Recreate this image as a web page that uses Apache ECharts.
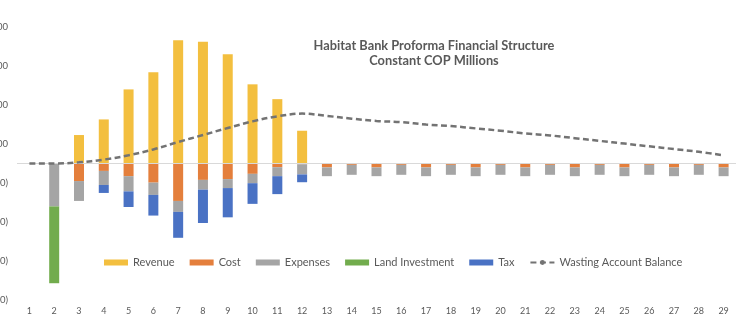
<!DOCTYPE html>
<html>
<head>
<meta charset="utf-8">
<script src="https://cdn.jsdelivr.net/npm/echarts@6/dist/echarts.min.js"></script>
<style>html,body{margin:0;padding:0;background:#fff}#c{width:738px;height:333px}</style>
</head>
<body>
<div id="c"></div>
<script>
const categories = ['1','2','3','4','5','6','7','8','9','10','11','12','13','14','15','16','17','18','19','20','21','22','23','24','25','26','27','28','29'];
const revenue  = [0, 0, 730, 1130, 1900, 2340, 3160, 3120, 2800, 2030, 1650, 840, 0, 0, 0, 0, 0, 0, 0, 0, 0, 0, 0, 0, 0, 0, 0, 0, 0];
const cost     = [0, 0, -450, -190, -325, -490, -960, -420, -400, -265, -95, -20, -100, -35, -100, -35, -100, -35, -100, -35, -100, -35, -100, -35, -100, -35, -100, -35, -100];
const expenses = [0, -1100, -510, -360, -390, -315, -280, -250, -230, -240, -230, -260, -225, -255, -225, -255, -225, -255, -225, -255, -225, -255, -225, -255, -225, -255, -225, -255, -225];
const landInvestment = [0, -1970, 0, 0, 0, 0, 0, 0, 0, 0, 0, 0, 0, 0, 0, 0, 0, 0, 0, 0, 0, 0, 0, 0, 0, 0, 0, 0, 0];
const tax      = [0, 0, 0, -205, -400, -530, -665, -855, -750, -530, -460, -200, 0, 0, 0, 0, 0, 0, 0, 0, 0, 0, 0, 0, 0, 0, 0, 0, 0];
const wastingBalance = [0, 0, 30, 100, 210, 360, 550, 730, 910, 1080, 1210, 1280, 1220, 1150, 1090, 1060, 1000, 960, 900, 840, 770, 720, 650, 580, 510, 440, 370, 300, 210];
const titleLines = ['Habitat Bank Proforma Financial Structure', 'Constant COP Millions'];

const FONT = 'Lato';
const chart = echarts.init(document.getElementById('c'), null, {renderer: 'canvas'});
const barCommon = {type: 'bar', stack: 'total', barWidth: 10};
chart.setOption({
  animation: false,
  backgroundColor: '#ffffff',
  textStyle: {fontFamily: FONT},
  title: {
    text: titleLines.join('\n'),
    left: 429, top: 33, textAlign: 'center',
    textStyle: {fontFamily: FONT, fontSize: 12.8, fontWeight: 'bold', color: '#595959', lineHeight: 15}
  },
  legend: {
    left: 99, top: 252,
    itemWidth: 24, itemHeight: 6, itemGap: 15,
    textStyle: {fontFamily: FONT, fontSize: 11, color: '#595959'},
    data: [
      {name: 'Revenue', icon: 'rect'},
      {name: 'Cost', icon: 'rect'},
      {name: 'Expenses', icon: 'rect'},
      {name: 'Land Investment', icon: 'rect'},
      {name: 'Tax', icon: 'rect'},
      {name: 'Wasting Account Balance'}
    ]
  },
  grid: {left: 17, right: 2, top: 27, bottom: 33, containLabel: false, outerBoundsMode: 'none'},
  xAxis: {
    type: 'category', data: categories,
    axisLine: {show: false}, axisTick: {show: false},
    axisLabel: {color: '#595959', fontSize: 9, margin: 7, fontFamily: FONT}
  },
  yAxis: {
    type: 'value', min: -3500, max: 3500, interval: 500,
    splitLine: {show: false}, axisLine: {show: false}, axisTick: {show: false},
    axisLabel: {
      color: '#595959', fontSize: 9.5, margin: 9, fontFamily: FONT,
      formatter: function (v) {
        const k = Math.round(v / 500);
        if (k % 2 === 0) return '';
        return v > 0 ? '00' : '00)';
      }
    }
  },
  series: [
    Object.assign({}, barCommon, {
      name: 'Revenue', data: revenue, itemStyle: {color: '#F3BF3F'},
      markLine: {
        silent: true, symbol: 'none', label: {show: false},
        lineStyle: {color: '#D9D9D9', width: 1, type: 'solid'},
        data: [{yAxis: 0}]
      }
    }),
    Object.assign({}, barCommon, {name: 'Cost', data: cost, itemStyle: {color: '#E47F3C'}}),
    Object.assign({}, barCommon, {name: 'Expenses', data: expenses, itemStyle: {color: '#A5A5A5'}}),
    Object.assign({}, barCommon, {name: 'Land Investment', data: landInvestment, itemStyle: {color: '#72AC4D'}}),
    Object.assign({}, barCommon, {name: 'Tax', data: tax, itemStyle: {color: '#4A72C4'}}),
    {
      name: 'Wasting Account Balance', type: 'line', data: wastingBalance,
      smooth: 0.35, showSymbol: false, symbol: 'circle', symbolSize: 6, z: 5,
      itemStyle: {color: '#737373'},
      lineStyle: {color: '#737373', width: 2.5, type: [6, 3.5]}
    }
  ]
});
</script>
</body>
</html>
